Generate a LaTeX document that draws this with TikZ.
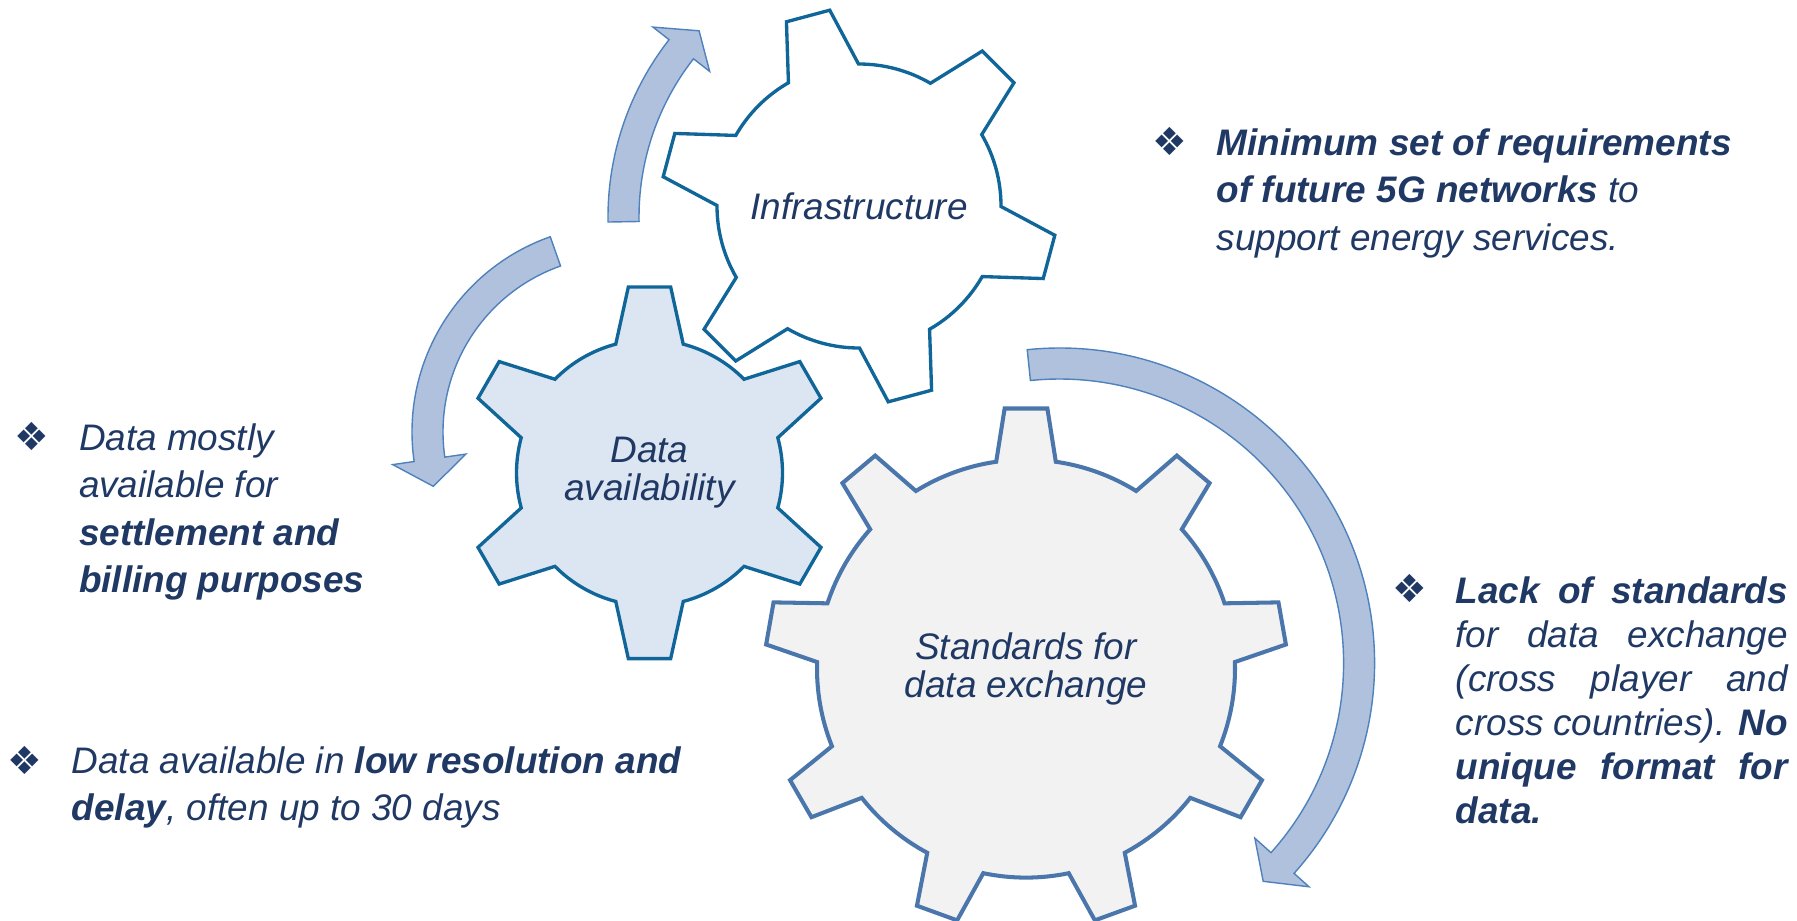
\documentclass[tikz,border=0pt]{standalone}
\usepackage{fontspec}
\setmainfont{Liberation Sans}
\newfontfamily\symbolfont{DejaVu Sans}
\usepackage{tikz}
\usetikzlibrary{
    positioning,
    calc
}
\definecolor{textNavy}{RGB}{31, 56, 100}
\definecolor{gearTeal}{RGB}{16, 102, 153}
\definecolor{gearSteel}{RGB}{74, 118, 172}
\definecolor{gearIce}{RGB}{220, 230, 242}
\definecolor{gearGrey}{RGB}{242, 242, 242}
\definecolor{arrowFill}{RGB}{176, 193, 221}
\definecolor{arrowLine}{RGB}{79, 129, 189}

% gear: style, centre, teeth, root r, tip r, root half angle, tip half angle, first tooth
\newcommand{\drawgear}[8]{%
    \pgfmathsetmacro{\gstep}{360/#3}
    \draw[#1, shift={(#2)}] ({#8-#6}:#4)
        \foreach \k in {1,...,#3}{
            -- ({#8+(\k-1)*\gstep-#7}:#5)
            -- ({#8+(\k-1)*\gstep+#7}:#5)
            -- ({#8+(\k-1)*\gstep+#6}:#4)
            arc[start angle={#8+(\k-1)*\gstep+#6}, end angle={#8+\k*\gstep-#6}, radius=#4]
        } -- cycle;
}
% turning arrow: centre, inner r, outer r, tail, head base, tip angle, tip r, barb in, barb out
\newcommand{\drawturn}[9]{%
    \draw[turnarrow, shift={(#1)}] (#4:#3)
        arc[start angle=#4, end angle=#5, radius=#3]
        -- (#5:#9) -- (#6:#7) -- (#5:#8) -- (#5:#2)
        arc[start angle=#5, end angle=#4, radius=#2] -- cycle;
}

\begin{document}
\begin{tikzpicture}[x=0.01cm, y=0.01cm,
        infragear/.style={draw=gearTeal, fill=white, line width=0.95pt},
        datagear/.style={draw=gearTeal, fill=gearIce, line width=0.95pt},
        stdgear/.style={draw=gearSteel, fill=gearGrey, line width=1.15pt},
        turnarrow/.style={draw=arrowLine, fill=arrowFill, line width=0.4pt},
        gearlabel/.style={text=textNavy, inner sep=0pt, align=center,
            font=\fontsize{10.5}{10.8}\selectfont\itshape},
        note/.style={text=textNavy, inner sep=0pt, align=left, anchor=north west,
            font=\fontsize{10.5}{13.5}\selectfont\itshape},
        bulletmark/.style={text=textNavy, inner sep=0pt,
            font=\symbolfont\fontsize{11}{11}\selectfont}]
    \useasboundingbox (0,0) rectangle (1797,920);
    \clip (0,0) rectangle (1797,920);

    \coordinate (g1) at (859, 714);
    \coordinate (g2) at (649.5, 447.2);
    \coordinate (g3) at (1026, 251.4);
    \coordinate (tA) at (896, 703);
    \coordinate (tB) at (619, 488);
    \coordinate (tC) at (1059.6, 257);

    % arrows
    \drawturn{tA}{257}{288}{181}{142}{136.6}{271}{236.5}{308.5}
    \drawturn{tB}{176}{207}{109.4}{188.2}{196.3}{193.5}{154.7}{228.6}
    \drawturn{tC}{284}{315}{95.9}{-41.9}{-47}{298.5}{262.3}{335.1}

    % gears
    \drawgear{infragear}{g1}{6}{142}{198}{14.8}{6.5}{105}
    \drawgear{datagear}{g2}{6}{133}{187}{14.7}{6.5}{90}
    \drawgear{stdgear}{g3}{9}{209}{261}{8.2}{4.7}{90}

    \node[gearlabel] (infra) at (g1) {Infrastructure};
    \node[gearlabel] (avail) at (g2) {Data\\availability};
    \node[gearlabel] (stds) at (g3) {Standards for\\data exchange};

    % notes
    \node[bulletmark] (bReq) at (1170, 778.3) {❖};
    \node[note] (req) at (1216, 792) {\bfseries Minimum set of requirements\\
        \bfseries of future 5G networks \mdseries to\\support energy services.};

    \node[bulletmark] (bSettle) at (31.7, 483.3) {❖};
    \node[note] (settle) at (78.3, 497) {Data mostly\\available for\\
        \bfseries settlement and\\\bfseries billing purposes};

    \node[bulletmark] (bLow) at (25, 160) {❖};
    \node[note] (lowres) at (71, 174) {Data available in \textbf{low resolution and}\\
        \textbf{delay}, often up to 30 days};

    \node[bulletmark] (bLack) at (1409.7, 331.7) {❖};
    \node[note, font=\fontsize{10.5}{12.5}\selectfont\itshape] (lack) at (1455, 343.7) {%
        \makebox[3.32cm][s]{\bfseries Lack of standards}\\
        \makebox[3.32cm][s]{for data exchange}\\
        \makebox[3.32cm][s]{(cross player and}\\
        \makebox[3.32cm][s]{cross countries). \textbf{No}}\\
        \makebox[3.32cm][s]{\bfseries unique format for}\\
        \textbf{data.}};
\end{tikzpicture}
\end{document}
